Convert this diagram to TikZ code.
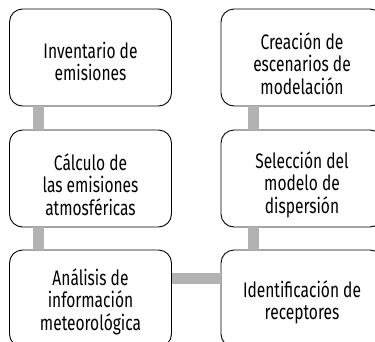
\documentclass[tikz,border=0pt]{standalone}
\usepackage{fontspec}
\setmainfont{Fira Sans}[FakeStretch=0.74]
\begin{document}
\begin{tikzpicture}[x=1pt,y=-1pt,
  stepbox/.style={draw=black,line width=0.9pt,rounded corners=13pt,fill=white,
    minimum width=162pt,minimum height=97pt,inner sep=0pt},
  steptext/.style={align=center,inner sep=0pt,font=\fontsize{21}{22.5}\selectfont},
  bar/.style={draw=gray!60,line width=11pt}]
\useasboundingbox (0,0) rectangle (375,341);
\node[stepbox] (l1) at (90.5,57.5) {};
\node[stepbox] (l2) at (90.5,178.5) {};
\node[stepbox] (l3) at (90.5,298.5) {};
\node[stepbox] (r1) at (302,57.5) {};
\node[stepbox] (r2) at (302,178.5) {};
\node[stepbox] (r3) at (302,298.5) {};
\node[steptext] (t1) at ([yshift=-4pt]l1.center) {Inventario de\\emisiones};
\node[steptext] (t2) at ([yshift=-6pt]l2.center) {Cálculo de\\las emisiones\\atmosféricas};
\node[steptext] (t3) at ([yshift=-3pt]l3.center) {Análisis de\\información\\meteorológica};
\node[steptext] (t4) at ([yshift=-6pt]r1.center) {Creación de\\escenarios de\\modelación};
\node[steptext] (t5) at ([yshift=-6pt]r2.center) {Selección del\\modelo de\\dispersión};
\node[steptext] (t6) at ([yshift=-4pt]r3.center) {Identificación de\\receptores};
\draw[bar] ([xshift=-52pt]l1.south) -- ([xshift=-52pt]l2.north);
\draw[bar] ([xshift=-52pt]l2.south) -- ([xshift=-52pt]l3.north);
\draw[bar] ([xshift=-48.5pt]r1.south) -- ([xshift=-48.5pt]r2.north);
\draw[bar] ([xshift=-48.5pt]r2.south) -- ([xshift=-48.5pt]r3.north);
\draw[bar] ([yshift=20.5pt]l3.east) -- ([yshift=20.5pt]r3.west);
\end{tikzpicture}
\end{document}
